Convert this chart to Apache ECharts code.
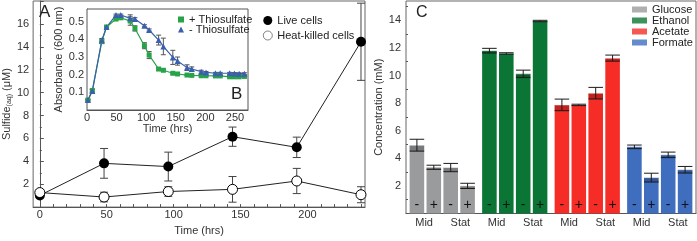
<!DOCTYPE html>
<html>
<head>
<meta charset="utf-8">
<script src="https://cdn.jsdelivr.net/npm/echarts@6/dist/echarts.min.js"></script>
<style>
  html, body { margin: 0; padding: 0; background: #fff; }
  #chart { width: 697px; height: 241px; }
</style>
</head>
<body>
<div id="chart"></div>
<script>
// panel A: sulfide over time
var sulfideTime = [0, 48, 96, 144, 192, 240];
var liveMean = [1.02, 3.82, 3.54, 6.15, 5.22, 14.44];
var liveErr = [0.12, 1.3, 1.26, 0.84, 0.89, 3.37];
var killedMean = [1.27, 0.88, 1.36, 1.55, 2.28, 1.08];
var killedErr = [0.1, 0.42, 0.42, 1.12, 1.1, 0.7];
var sulfideTimeLabels = [0, 50, 100, 150, 200];
var sulfideTimeTicks = [0, 10, 20, 30, 40, 50, 60, 70, 80, 90, 100, 110, 120, 130, 140, 150, 160, 170, 180, 190, 200, 210, 220, 230, 240];
var sulfideLabels = [2, 4, 6, 8, 10, 12, 14, 16];

// panel B (inset): growth curves
var growthTime = [1.5, 9, 25, 33, 49, 57, 73, 81, 97, 105, 121, 129, 145, 153, 169, 177, 193, 201, 217, 225, 241, 249, 257, 266];
var plusOD = [0.056, 0.11, 0.387, 0.47, 0.515, 0.522, 0.504, 0.462, 0.364, 0.311, 0.232, 0.225, 0.208, 0.204, 0.198, 0.196, 0.194, 0.194, 0.193, 0.193, 0.188, 0.188, 0.188, 0.19];
var plusErr = [0.004, 0.008, 0.01, 0.005, 0.005, 0.005, 0.024, 0.015, 0.017, 0.02, 0.006, 0.005, 0.004, 0.003, 0.003, 0.003, 0.003, 0.003, 0.003, 0.003, 0.003, 0.003, 0.003, 0.003];
var minusOD = [0.056, 0.107, 0.395, 0.47, 0.538, 0.538, 0.519, 0.515, 0.477, 0.453, 0.396, 0.36, 0.298, 0.277, 0.24, 0.232, 0.217, 0.213, 0.208, 0.208, 0.208, 0.207, 0.206, 0.206];
var minusErr = [0.004, 0.01, 0.01, 0.005, 0.005, 0.005, 0.02, 0.008, 0.006, 0.006, 0.028, 0.047, 0.04, 0.023, 0.016, 0.012, 0.008, 0.005, 0.005, 0.005, 0.005, 0.005, 0.005, 0.005];
var growthTimeLabels = [0, 50, 100, 150, 200, 250];
var odLabels = [0.1, 0.2, 0.3, 0.4, 0.5];

// panel C: metabolites
var compounds = ['Glucose', 'Ethanol', 'Acetate', 'Formate'];
var phases = ['Mid', 'Mid', 'Stat', 'Stat'];
var thio = ['-', '+', '-', '+'];
var glucoseMean = [4.95, 3.35, 3.33, 2.0];
var glucoseErr = [0.43, 0.15, 0.3, 0.19];
var ethanolMean = [11.8, 11.6, 10.12, 13.95];
var ethanolErr = [0.17, 0.05, 0.27, 0.05];
var acetateMean = [7.87, 7.87, 8.72, 11.26];
var acetateErr = [0.42, 0.05, 0.42, 0.22];
var formateMean = [4.83, 2.6, 4.25, 3.17];
var formateErr = [0.13, 0.32, 0.2, 0.24];
var concLabels = [2, 4, 6, 8, 10, 12, 14];
var phaseLabels = ['Mid', 'Stat', 'Mid', 'Stat', 'Mid', 'Stat', 'Mid', 'Stat'];

var compoundColors = ['#9a9b9d', '#0b7535', '#f62c26', '#3f6ebf'];
var green = '#27a348', blue = '#3a5fae';
var FONT = 'Liberation Sans, Arial, sans-serif';
var CAT_GAP = 0.1, BAR_GAP = 0.16;

var means = [glucoseMean, ethanolMean, acetateMean, formateMean];
var errs = [glucoseErr, ethanolErr, acetateErr, formateErr];

function errData(xs, m, e) {
  return xs.map(function (x, i) { return [x, m[i] - e[i], m[i] + e[i]]; });
}
function pairs(xs, ys) {
  return xs.map(function (x, i) { return [x, ys[i]]; });
}

// I-shaped error bars
function errorBars(cap, color, width) {
  return function (params, api) {
    var x = api.value(0);
    var top = api.coord([x, api.value(2)]);
    var bot = api.coord([x, api.value(1)]);
    var h = cap / 2;
    var st = { stroke: color, lineWidth: width };
    return {
      type: 'group',
      children: [
        { type: 'line', shape: { x1: top[0], y1: top[1], x2: bot[0], y2: bot[1] }, style: st },
        { type: 'line', shape: { x1: top[0] - h, y1: top[1], x2: top[0] + h, y2: top[1] }, style: st },
        { type: 'line', shape: { x1: bot[0] - h, y1: bot[1], x2: bot[0] + h, y2: bot[1] }, style: st }
      ]
    };
  };
}

// error bars + shaded band for grouped bars of panel C
function barErrors(params, api) {
  var cat = api.value(0), k = api.value(1), mean = api.value(2), err = api.value(3);
  var band = api.size([1, 0])[0];
  var usable = band * (1 - CAT_GAP);
  var w = usable / (4 + 3 * BAR_GAP);
  var c = api.coord([cat, mean]);
  var x = c[0] - usable / 2 + k * w * (1 + BAR_GAP) + w / 2;
  var yTop = api.coord([cat, mean + err])[1];
  var yBot = api.coord([cat, mean - err])[1];
  var h = w / 2;
  var st = { stroke: '#1a1a1a', lineWidth: 1 };
  return {
    type: 'group',
    children: [
      { type: 'rect', shape: { x: x - h, y: c[1], width: w, height: yBot - c[1] }, style: { fill: 'rgba(0,0,0,0.22)' } },
      { type: 'line', shape: { x1: x - h, y1: c[1], x2: x + h, y2: c[1] }, style: { stroke: 'rgba(255,255,255,0.55)', lineWidth: 1 } },
      { type: 'line', shape: { x1: x, y1: yTop, x2: x, y2: yBot }, style: st },
      { type: 'line', shape: { x1: x - h, y1: yTop, x2: x + h, y2: yTop }, style: st },
      { type: 'line', shape: { x1: x - h, y1: yBot, x2: x + h, y2: yBot }, style: st }
    ]
  };
}

var barErrData = [];
compounds.forEach(function (c, i) {
  thio.forEach(function (t, k) {
    barErrData.push([i, k, means[i][k], errs[i][k], means[i][k] - errs[i][k], means[i][k] + errs[i][k]]);
  });
});

var axisLineStyle = { lineStyle: { color: '#555', width: 1 } };
var labelStyle = { color: '#333', fontSize: 11, fontFamily: FONT };
var nameStyle = { color: '#333', fontSize: 11, fontFamily: FONT };

var barSeries = thio.map(function (t, k) {
  return {
    type: 'bar',
    name: phases[k] + ' ' + t,
    xAxisIndex: 2, yAxisIndex: 2,
    barCategoryGap: (CAT_GAP * 100) + '%',
    barGap: (BAR_GAP * 100) + '%',
    data: means.map(function (m) { return m[k]; }),
    itemStyle: { color: function (p) { return compoundColors[p.dataIndex]; } },
    label: {
      show: true, position: 'insideBottom', distance: 1,
      formatter: t, color: '#111', fontSize: 14, fontFamily: FONT
    },
    z: 2
  };
});

var chart = echarts.init(document.getElementById('chart'), null, { renderer: 'canvas' });
chart.setOption({
  animation: false,
  backgroundColor: '#fff',
  textStyle: { fontFamily: FONT },
  title: [
    { text: 'A', left: 39, top: 4, padding: 0, textStyle: { fontSize: 17, fontWeight: 'normal', color: '#222', fontFamily: FONT } },
    { text: 'B', left: 231, top: 86, padding: 0, textStyle: { fontSize: 17, fontWeight: 'normal', color: '#222', fontFamily: FONT } },
    { text: 'C', left: 416, top: 5, padding: 0, textStyle: { fontSize: 16, fontWeight: 'normal', color: '#222', fontFamily: FONT } }
  ],
  legend: [
    {
      data: [
        { name: 'Live cells', icon: 'circle', itemStyle: { color: '#000', borderWidth: 0 } },
        { name: 'Heat-killed cells', icon: 'circle', itemStyle: { color: '#fff', borderColor: '#333', borderWidth: 0.6 } }
      ],
      orient: 'vertical', left: 263, top: 15, itemWidth: 9, itemHeight: 9, itemGap: 4,
      selectedMode: false, padding: 0, textStyle: { fontSize: 11, color: '#222', fontFamily: FONT }
    },
    {
      data: [{ name: '+ Thiosulfate', icon: 'rect' }, { name: '- Thiosulfate', icon: 'triangle' }],
      orient: 'vertical', left: 178, top: 14, itemWidth: 6, itemHeight: 6, itemGap: -1,
      selectedMode: false, padding: 0, textStyle: { fontSize: 11, color: '#222', fontFamily: FONT }
    },
    {
      data: compounds.map(function (c) { return { name: c, icon: 'rect' }; }),
      orient: 'vertical', left: 632, top: 4, itemWidth: 15, itemHeight: 6, itemGap: 0,
      selectedMode: false, padding: 0, textStyle: { fontSize: 11, color: '#222', fontFamily: FONT }
    }
  ],
  grid: [
    { left: 29, top: 1, width: 336, height: 214, show: true, borderColor: '#666', borderWidth: 1 },
    { left: 87, top: 9, width: 161, height: 101, show: true, borderColor: '#555', borderWidth: 1, backgroundColor: '#fff', z: 3 },
    { left: 406, top: 1, width: 290, height: 212.5, show: true, borderColor: '#666', borderWidth: 1 }
  ],
  xAxis: [
    {
      gridIndex: 0, type: 'value', min: -5, max: 243,
      name: 'Time (hrs)', nameLocation: 'middle', nameGap: 14, nameTextStyle: nameStyle,
      axisLine: axisLineStyle, splitLine: { show: false },
      axisTick: { inside: true, length: 3, customValues: sulfideTimeTicks, lineStyle: { color: '#555' } },
      axisLabel: Object.assign({ margin: 2, customValues: sulfideTimeLabels }, labelStyle)
    },
    {
      gridIndex: 1, type: 'value', min: 0, max: 272,
      name: 'Time (hrs)', nameLocation: 'middle', nameGap: 11, nameTextStyle: nameStyle,
      axisLine: axisLineStyle, splitLine: { show: false },
      axisTick: { inside: true, length: 3, customValues: growthTimeLabels, lineStyle: { color: '#555' } },
      axisLabel: Object.assign({ margin: 2, customValues: growthTimeLabels }, labelStyle)
    },
    {
      gridIndex: 2, type: 'category', data: compounds, position: 'bottom',
      axisLine: axisLineStyle, axisTick: { show: false }, axisLabel: { show: false }, splitLine: { show: false }
    },
    {
      gridIndex: 2, type: 'category', data: phaseLabels, position: 'bottom',
      axisLine: { show: false }, axisTick: { show: false }, splitLine: { show: false },
      axisLabel: Object.assign({ margin: 4, interval: 0 }, labelStyle)
    }
  ],
  yAxis: [
    {
      gridIndex: 0, type: 'value', min: 0, max: 18, interval: 2,
      name: 'Sulfide{s|(aq)} (μM)', nameLocation: 'middle', nameGap: 16,
      nameTextStyle: Object.assign({ rich: { s: { fontSize: 7, color: '#333', verticalAlign: 'bottom', padding: [6, 0, 0, 0], fontFamily: FONT } } }, nameStyle),
      axisLine: axisLineStyle, splitLine: { show: false },
      axisTick: { inside: true, length: 4, lineStyle: { color: '#555' } },
      minorTick: { show: true, splitNumber: 2, length: 2, lineStyle: { color: '#555' } },
      axisLabel: Object.assign({ margin: 4, customValues: sulfideLabels }, labelStyle)
    },
    {
      gridIndex: 1, type: 'value', min: 0, max: 0.572,
      name: 'Absorbance (600 nm)', nameLocation: 'middle', nameGap: 17, nameTextStyle: nameStyle,
      axisLine: axisLineStyle, splitLine: { show: false },
      axisTick: { inside: true, length: 3, customValues: odLabels, lineStyle: { color: '#555' } },
      axisLabel: Object.assign({ margin: 3, customValues: odLabels, formatter: function (v) { return v.toFixed(1); } }, labelStyle)
    },
    {
      gridIndex: 2, type: 'value', min: 0, max: 15.4, interval: 2,
      name: 'Concentration (mM)', nameLocation: 'middle', nameGap: 13, nameTextStyle: nameStyle,
      axisLine: axisLineStyle, splitLine: { show: false },
      axisTick: { inside: true, length: 4, lineStyle: { color: '#555' } },
      minorTick: { show: true, splitNumber: 2, length: 2, lineStyle: { color: '#555' } },
      axisLabel: Object.assign({ margin: 5, customValues: concLabels }, labelStyle)
    }
  ],
  series: [
    {
      type: 'custom', name: 'live err', xAxisIndex: 0, yAxisIndex: 0, z: 1,
      renderItem: errorBars(8, '#444', 1), encode: { x: 0, y: [1, 2] },
      data: errData(sulfideTime, liveMean, liveErr)
    },
    {
      type: 'custom', name: 'killed err', xAxisIndex: 0, yAxisIndex: 0, z: 1,
      renderItem: errorBars(8, '#444', 1), encode: { x: 0, y: [1, 2] },
      data: errData(sulfideTime, killedMean, killedErr)
    },
    {
      type: 'line', name: 'Live cells', xAxisIndex: 0, yAxisIndex: 0, z: 2,
      data: pairs(sulfideTime, liveMean), symbol: 'circle', symbolSize: 10, showAllSymbol: true,
      lineStyle: { color: '#222', width: 1 }, itemStyle: { color: '#000' }
    },
    {
      type: 'line', name: 'Heat-killed cells', xAxisIndex: 0, yAxisIndex: 0, z: 2,
      data: pairs(sulfideTime, killedMean), symbol: 'circle', symbolSize: 10, showAllSymbol: true,
      lineStyle: { color: '#222', width: 1 }, itemStyle: { color: '#fff', borderColor: '#000', borderWidth: 1 }
    },
    {
      type: 'custom', name: 'plus err', xAxisIndex: 1, yAxisIndex: 1, z: 4,
      renderItem: errorBars(5, '#555', 1), encode: { x: 0, y: [1, 2] },
      data: errData(growthTime, plusOD, plusErr)
    },
    {
      type: 'custom', name: 'minus err', xAxisIndex: 1, yAxisIndex: 1, z: 4,
      renderItem: errorBars(5, '#555', 1), encode: { x: 0, y: [1, 2] },
      data: errData(growthTime, minusOD, minusErr)
    },
    {
      type: 'line', name: '+ Thiosulfate', xAxisIndex: 1, yAxisIndex: 1, z: 5,
      data: pairs(growthTime, plusOD), symbol: 'rect', symbolSize: 5, showAllSymbol: true,
      lineStyle: { color: green, width: 1.2 }, itemStyle: { color: green }
    },
    {
      type: 'line', name: '- Thiosulfate', xAxisIndex: 1, yAxisIndex: 1, z: 5,
      data: pairs(growthTime, minusOD), symbol: 'triangle', symbolSize: 6, showAllSymbol: true,
      lineStyle: { color: blue, width: 1.2 }, itemStyle: { color: blue }
    }
  ].concat(barSeries).concat([
    {
      type: 'custom', name: 'bar err', xAxisIndex: 2, yAxisIndex: 2, z: 3,
      renderItem: barErrors, encode: { x: 0, y: [4, 5] }, data: barErrData
    }
  ]).concat(compounds.map(function (c, i) {
    return { type: 'scatter', name: c, xAxisIndex: 2, yAxisIndex: 2, data: [], itemStyle: { color: compoundColors[i] } };
  }))
});
</script>
</body>
</html>
